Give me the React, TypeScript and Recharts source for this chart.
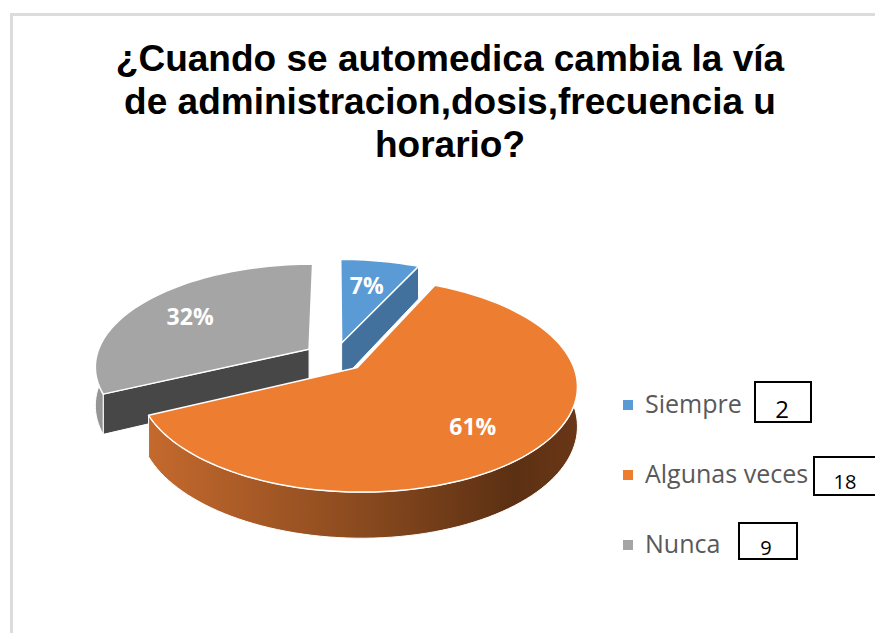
import React from 'react';
import { PieChart, Pie, Legend } from 'recharts';

const categories = ['Siempre', 'Algunas veces', 'Nunca'];
const percentages = [7, 61, 32];
const counts = [2, 18, 9];
const titleLines = [
  '¿Cuando se automedica cambia la vía',
  'de administracion,dosis,frecuencia u',
  'horario?',
];

const topColors = ['#5b9bd5', '#ed7d31', '#a5a5a5'];
const cutColors = ['#41719c', '#ae5a21', '#474747'];
const wallColors = ['#41719c', 'url(#orangeWall)', '#959595'];

const data = categories.map((name, i) => ({ name, value: percentages[i] }));

const W = 875;
const H = 633;
const CX = 335;
const CY = 357;
const R = 213;
const TILT = 0.474; // vertical squash of the disc
const PERSP = 6.28; // camera distance, in radii
const EXPLODE = 0.146;
const DEPTH = 38;
const RAD = Math.PI / 180;

// count boxes drawn next to the legend (hand placed in the original)
const boxes = [
  { x: 755, y: 382, w: 56, h: 40, tx: 782, ty: 418, fs: 24 },
  { x: 814, y: 457, w: 70, h: 38, tx: 845, ty: 489, fs: 20 },
  { x: 739, y: 523, w: 58, h: 36, tx: 766, ty: 555, fs: 20 },
];

type Pt = [number, number];

// back slices first, front slice last
const layerOf = (i: number) => (i === 1 ? 1 : 0);

function project(cx: number, cy: number, r: number, X: number, Z: number, drop: number): Pt {
  const f = PERSP / (PERSP + Z);
  return [cx + X * r * f, cy - Z * r * TILT * f + drop * f];
}

const toPath = (pts: Pt[]) =>
  'M' + pts.map((p) => `${p[0].toFixed(2)},${p[1].toFixed(2)}`).join('L') + 'Z';

function sliceGeom(props: any) {
  const { cx, cy, outerRadius, startAngle, endAngle } = props;
  const mid = ((startAngle + endAngle) / 2) * RAD;
  const ex = EXPLODE * Math.cos(mid);
  const ez = EXPLODE * Math.sin(mid);
  const pt = (deg: number, rho: number, drop: number) =>
    project(cx, cy, outerRadius, ex + rho * Math.cos(deg * RAD), ez + rho * Math.sin(deg * RAD), drop);
  return pt;
}

function arc(pt: (d: number, r: number, h: number) => Pt, from: number, to: number, drop: number) {
  const n = Math.max(2, Math.ceil(Math.abs(to - from) / 2));
  const out: Pt[] = [];
  for (let k = 0; k <= n; k++) out.push(pt(from + ((to - from) * k) / n, 1, drop));
  return out;
}

function frontRanges(lo: number, hi: number) {
  const res: [number, number][] = [];
  for (let k = -2; k <= 2; k++) {
    const a = Math.max(lo, -180 + 360 * k);
    const b = Math.min(hi, 360 * k);
    if (b > a) res.push([a, b]);
  }
  return res;
}

const makeShape = (layer: number) => (props: any) => {
  const i = categories.indexOf(props.name);
  if (layerOf(i) !== layer) return <g />;
  const pt = sliceGeom(props);
  const hi = Math.max(props.startAngle, props.endAngle);
  const lo = Math.min(props.startAngle, props.endAngle);
  const apexTop = pt(0, 0, 0);
  const apexBot = pt(0, 0, DEPTH);
  const parts: React.ReactNode[] = [];

  // radial cut faces that look toward the viewer
  const cuts: [number, number][] = [
    [hi, hi + 90],
    [lo, lo - 90],
  ];
  cuts.forEach(([a, n], k) => {
    if (Math.sin(n * RAD) < -0.01) {
      parts.push(
        <path
          key={'c' + k}
          d={toPath([apexTop, pt(a, 1, 0), pt(a, 1, DEPTH), apexBot])}
          fill={cutColors[i]}
          stroke="#fff"
          strokeWidth={1}
          strokeLinejoin="round"
        />
      );
    }
  });

  // outer wall, front half only
  frontRanges(lo, hi).forEach(([a, b], k) => {
    const top = arc(pt, a, b, 0);
    const bot = arc(pt, b, a, DEPTH);
    parts.push(
      <path key={'w' + k} d={toPath([...top, ...bot])} fill={wallColors[i]} stroke="#fff" strokeWidth={1} />
    );
  });

  parts.push(
    <path
      key="t"
      d={toPath([apexTop, ...arc(pt, hi, lo, 0)])}
      fill={topColors[i]}
      stroke="#fff"
      strokeWidth={1.5}
      strokeLinejoin="round"
    />
  );

  return (
    <g>
      <defs>
        <linearGradient id="orangeWall" gradientUnits="userSpaceOnUse" x1={150} y1={0} x2={578} y2={0}>
          <stop offset="0" stopColor="#c4692d" />
          <stop offset="0.45" stopColor="#8f4d20" />
          <stop offset="0.85" stopColor="#5c3013" />
          <stop offset="1" stopColor="#6a3717" />
        </linearGradient>
      </defs>
      {parts}
    </g>
  );
};

const renderLabel = (props: any) => {
  const pt = sliceGeom(props);
  const [x, y] = pt((props.startAngle + props.endAngle) / 2, 0.7, 0);
  return (
    <text
      x={x - 3}
      y={y + 2}
      textAnchor="middle"
      dominantBaseline="central"
      fill="#fff"
      fontSize={23}
      fontWeight={700}
      fontFamily='"Open Sans", sans-serif'
    >
      {`${props.value}%`}
    </text>
  );
};

const renderLegend = () => (
  <svg width={W} height={H} style={{ position: 'absolute', left: 0, top: 0 }}>
    {categories.map((c, i) => {
      const base = 413 + 70 * i;
      const b = boxes[i];
      return (
        <g key={c}>
          <rect x={623} y={base - 13} width={10} height={10} fill={topColors[i]} />
          <text x={645} y={base} fontSize={25} fill="#595959" fontFamily='"Open Sans", sans-serif'>
            {c}
          </text>
          <rect x={b.x} y={b.y} width={b.w} height={b.h} fill="#fff" stroke="#000" strokeWidth={2} />
          <text
            x={b.tx}
            y={b.ty}
            fontSize={b.fs}
            textAnchor="middle"
            fill="#000"
            fontFamily='"Open Sans", sans-serif'
          >
            {counts[i]}
          </text>
        </g>
      );
    })}
  </svg>
);

export default function App() {
  const shape0 = makeShape(0);
  const shape1 = makeShape(1);
  return (
    <div
      style={{
        position: 'absolute',
        left: 0,
        top: 0,
        width: W,
        height: H,
        overflow: 'hidden',
        background: '#fff',
      }}
    >
      <div
        style={{
          position: 'absolute',
          left: 10,
          top: 13,
          width: 920,
          height: 700,
          border: '3px solid #dcdcdc',
        }}
      />
      <div
        style={{
          position: 'absolute',
          left: 0,
          top: 37,
          width: 900,
          textAlign: 'center',
          fontFamily: '"Liberation Sans", Arial, sans-serif',
          fontWeight: 700,
          fontSize: 37,
          lineHeight: '43px',
          color: '#000',
          whiteSpace: 'nowrap',
        }}
      >
        {titleLines.map((t) => (
          <div key={t}>{t}</div>
        ))}
      </div>
      <div style={{ position: 'absolute', left: 0, top: 0 }}>
        <PieChart width={W} height={H} margin={{ top: 0, right: 0, bottom: 0, left: 0 }}>
          <Pie
            data={data}
            dataKey="value"
            nameKey="name"
            cx={CX}
            cy={CY}
            outerRadius={R}
            startAngle={90}
            endAngle={-270}
            stroke="none"
            isAnimationActive={false}
            shape={shape0}
            activeShape={shape0}
            inactiveShape={shape0}
            label={false}
            labelLine={false}
          />
          <Pie
            data={data}
            dataKey="value"
            nameKey="name"
            cx={CX}
            cy={CY}
            outerRadius={R}
            startAngle={90}
            endAngle={-270}
            stroke="none"
            isAnimationActive={false}
            shape={shape1}
            activeShape={shape1}
            inactiveShape={shape1}
            label={renderLabel}
            labelLine={false}
          />
          <Legend
            content={renderLegend}
            wrapperStyle={{ position: 'absolute', left: 0, top: 0, width: W, height: H }}
          />
        </PieChart>
      </div>
    </div>
  );
}
